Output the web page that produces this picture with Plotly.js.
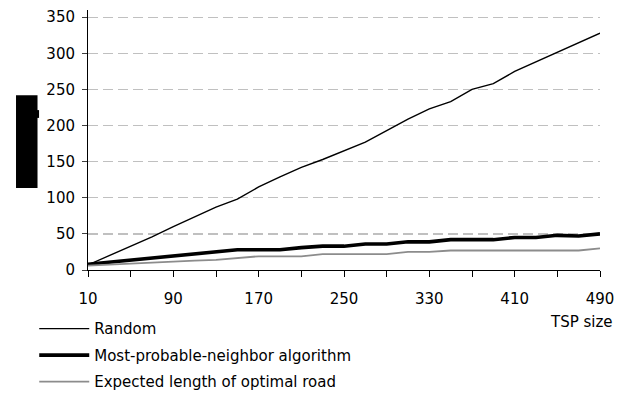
<!DOCTYPE html>
<html>
<head>
<meta charset="utf-8">
<script src="https://cdn.plot.ly/plotly-3.0.1.min.js"></script>
<style>
  html, body { margin: 0; padding: 0; background: #fff; }
  #chart { width: 626px; height: 401px; }
</style>
</head>
<body>
<div id="chart"></div>
<script>
const tspSize = [10, 30, 50, 70, 90, 110, 130, 150, 170, 190, 210, 230, 250, 270, 290, 310, 330, 350, 370, 390, 410, 430, 450, 470, 490];
const randomRoad = [7, 20, 32, 46, 60, 73, 87, 98, 115, 129, 142, 153, 165, 177, 193, 209, 223, 233, 250, 258, 275, 288, 301, 315, 328];
const mpnRoad = [8, 11, 14, 17, 20, 23, 26, 28, 28, 28, 31, 33, 33, 36, 36, 39, 39, 42, 42, 42, 45, 45, 48, 47, 50];
const optimalRoad = [6, 7.5, 9, 10.5, 12, 13, 14, 16.5, 19, 19, 19, 22, 22, 22, 22, 25, 25, 27, 27, 27, 27, 27, 27, 27, 30];
const seriesNames = ['Random', 'Most-probable-neighbor algorithm', 'Expected length of optimal road'];
const xTickVals = [10, 50, 90, 130, 170, 210, 250, 290, 330, 370, 410, 450, 490];
const xTickText = ['10', '', '90', '', '170', '', '250', '', '330', '', '410', '', '490'];
const yTickVals = [0, 50, 100, 150, 200, 250, 300, 350];

const font = { family: 'DejaVu Sans, Verdana, sans-serif', size: 15, color: '#000' };

const traces = [
  { x: tspSize, y: randomRoad, name: seriesNames[0], type: 'scatter', mode: 'lines',
    line: { color: '#000000', width: 1.4 }, legendgroup: 'a' },
  { x: tspSize, y: mpnRoad, name: seriesNames[1], type: 'scatter', mode: 'lines',
    line: { color: '#000000', width: 3.6 }, legendgroup: 'b' },
  { x: tspSize, y: optimalRoad, name: seriesNames[2], type: 'scatter', mode: 'lines',
    line: { color: '#8c8c8c', width: 1.8 }, legendgroup: 'c' }
];

const layout = {
  width: 626, height: 401,
  margin: { l: 88, r: 26, t: 10, b: 131, autoexpand: false },
  paper_bgcolor: '#ffffff', plot_bgcolor: '#ffffff',
  font: font,
  showlegend: true,
  legend: {
    x: -0.105, y: -0.163, xanchor: 'left', yanchor: 'top',
    orientation: 'v', tracegroupgap: 4, itemwidth: 50,
    font: font, bgcolor: 'rgba(0,0,0,0)'
  },
  xaxis: {
    type: 'linear', range: [10, 490], tickmode: 'array',
    tickvals: xTickVals, ticktext: xTickText,
    ticks: 'outside', ticklen: 6, tickcolor: '#000', tickwidth: 1,
    showline: true, linecolor: '#000', linewidth: 1,
    showgrid: false, zeroline: false, ticklabelstandoff: 9,
    tickfont: font, automargin: false
  },
  yaxis: {
    range: [0, 360], tickmode: 'array', tickvals: yTickVals,
    ticks: 'outside', ticklen: 5, tickcolor: '#404040', tickwidth: 1,
    showline: true, linecolor: '#000', linewidth: 1,
    showgrid: true, gridcolor: '#c0c0c0', gridwidth: 1.3, griddash: '10px,5px',
    zeroline: false, ticklabelstandoff: 4,
    tickfont: font, automargin: false
  },
  annotations: [
    { text: 'TSP size', xref: 'paper', yref: 'paper', x: 0.963, y: -0.2,
      xanchor: 'center', yanchor: 'middle', showarrow: false, font: font }
  ],
  shapes: [
    { type: 'rect', xref: 'paper', yref: 'paper', x0: -0.1406, x1: -0.0986, y0: 0.315, y1: 0.672,
      fillcolor: '#000', line: { width: 0 } },
    { type: 'rect', xref: 'paper', yref: 'paper', x0: -0.0996, x1: -0.0956, y0: 0.585, y1: 0.615,
      fillcolor: '#000', line: { width: 0 } }
  ]
};

Plotly.newPlot('chart', traces, layout, { displayModeBar: false, staticPlot: true });
</script>
</body>
</html>
